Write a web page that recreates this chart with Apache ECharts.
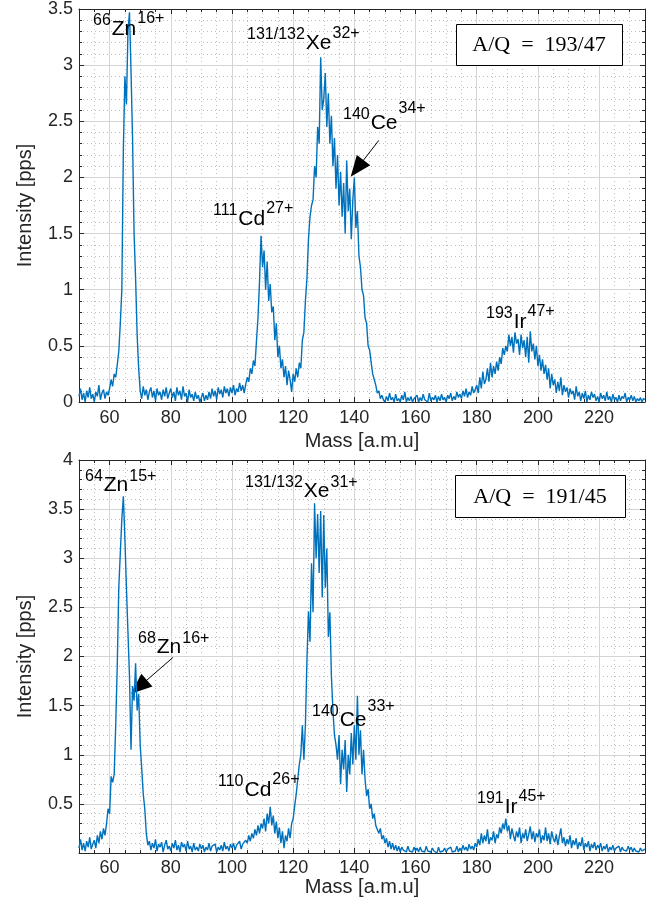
<!DOCTYPE html>
<html>
<head>
<meta charset="utf-8">
<title>A/Q spectra</title>
<script src="https://cdn.jsdelivr.net/npm/echarts@6/dist/echarts.min.js"></script>
<style>
html, body { margin: 0; padding: 0; background: #fff; }
#main { width: 657px; height: 907px; }
</style>
</head>
<body>
<div id="main"></div>
<script>
// mass axis: 50 .. 235 amu sampled every 0.5 amu
var massStart = 50, massStep = 0.5;

// A/Q = 193/47 (upper panel), intensity in pps, one row = 10 amu
var intensityTop = [
  0.05,0.12,0.02,0.08,0.00,0.10,0.04,0.13,0.03,0.07,0.00,0.09,0.05,0.15,0.02,0.08,0.11,0.03,0.09,0.06,
  0.12,0.20,0.14,0.25,0.22,0.33,0.45,0.70,1.00,2.25,2.90,2.65,3.30,3.47,2.95,2.35,1.50,1.10,0.60,0.30,
  0.10,0.03,0.14,0.06,0.11,0.02,0.09,0.13,0.04,0.10,0.01,0.12,0.06,0.09,0.02,0.11,0.05,0.13,0.03,0.08,
  0.12,0.04,0.09,0.01,0.13,0.06,0.10,0.02,0.14,0.05,0.08,0.00,0.11,0.04,0.07,0.01,0.09,0.03,0.06,0.00,
  0.04,0.08,0.01,0.06,0.02,0.09,0.03,0.12,0.05,0.10,0.02,0.13,0.07,0.11,0.04,0.14,0.08,0.12,0.05,0.13,
  0.08,0.15,0.06,0.12,0.09,0.17,0.10,0.15,0.08,0.16,0.22,0.18,0.30,0.25,0.37,0.32,0.54,0.75,1.07,1.48,
  1.20,1.35,1.00,1.25,0.90,1.05,0.80,0.85,0.55,0.70,0.40,0.50,0.30,0.38,0.22,0.32,0.15,0.28,0.20,0.09,
  0.25,0.18,0.30,0.22,0.35,0.30,0.55,0.62,0.90,1.10,1.45,1.65,1.75,1.80,2.10,2.00,2.45,2.30,3.07,2.60,
  2.70,2.93,2.45,2.75,2.30,2.55,2.10,2.35,1.90,2.20,1.75,2.05,1.65,1.95,1.50,2.15,1.70,1.90,1.45,1.80,
  2.00,1.55,1.70,1.30,1.20,1.00,0.95,0.75,0.70,0.50,0.46,0.35,0.25,0.20,0.15,0.08,0.10,0.03,0.06,0.02,
  0.00,0.05,0.01,0.08,0.02,0.04,0.00,0.07,0.01,0.03,0.00,0.06,0.02,0.09,0.00,0.04,0.01,0.05,0.00,0.03,
  0.02,0.06,0.00,0.04,0.01,0.07,0.02,0.03,0.00,0.08,0.01,0.04,0.02,0.06,0.00,0.05,0.01,0.07,0.02,0.04,
  0.00,0.06,0.03,0.08,0.01,0.05,0.02,0.09,0.04,0.07,0.03,0.10,0.05,0.12,0.04,0.09,0.06,0.14,0.08,0.11,
  0.15,0.08,0.22,0.12,0.27,0.16,0.20,0.30,0.18,0.35,0.22,0.32,0.25,0.36,0.28,0.40,0.34,0.48,0.42,0.50,
  0.45,0.60,0.50,0.58,0.44,0.62,0.52,0.56,0.42,0.60,0.48,0.55,0.40,0.58,0.35,0.63,0.45,0.52,0.38,0.50,
  0.32,0.42,0.28,0.38,0.25,0.33,0.20,0.30,0.12,0.25,0.15,0.20,0.08,0.18,0.10,0.22,0.06,0.15,0.09,0.13,
  0.04,0.12,0.07,0.10,0.02,0.14,0.05,0.09,0.01,0.08,0.03,0.10,0.00,0.06,0.02,0.09,0.04,0.07,0.01,0.05,
  0.00,0.08,0.03,0.06,0.01,0.09,0.02,0.05,0.00,0.07,0.02,0.04,0.00,0.06,0.01,0.05,0.03,0.08,0.00,0.04,
  0.02,0.06,0.01,0.05,0.00,0.03,0.01,0.04,0.00,0.03,0.02
];

// A/Q = 191/45 (lower panel)
var intensityBottom = [
  0.05,0.14,0.03,0.10,0.02,0.12,0.06,0.16,0.04,0.09,0.13,0.05,0.18,0.10,0.22,0.14,0.25,0.18,0.30,0.45,
  0.40,0.78,0.72,0.80,1.30,1.90,2.70,3.05,3.40,3.63,3.20,2.70,2.25,1.80,1.05,1.70,1.55,1.93,1.45,1.62,
  1.10,0.86,0.60,0.45,0.20,0.08,0.12,0.03,0.10,0.05,0.14,0.02,0.09,0.06,0.11,0.01,0.08,0.13,0.04,0.07,
  0.02,0.10,0.05,0.13,0.03,0.08,0.01,0.11,0.06,0.09,0.02,0.12,0.04,0.07,0.01,0.10,0.03,0.06,0.02,0.09,
  0.04,0.08,0.01,0.06,0.03,0.10,0.02,0.07,0.05,0.09,0.01,0.06,0.03,0.08,0.02,0.11,0.04,0.07,0.02,0.09,
  0.05,0.10,0.03,0.08,0.06,0.12,0.04,0.09,0.07,0.13,0.10,0.18,0.12,0.20,0.15,0.24,0.18,0.28,0.20,0.30,
  0.25,0.35,0.22,0.40,0.30,0.47,0.28,0.38,0.20,0.32,0.15,0.26,0.10,0.22,0.05,0.18,0.12,0.25,0.15,0.30,
  0.35,0.48,0.60,0.75,0.90,1.00,1.30,0.95,1.30,1.96,2.46,2.15,2.95,2.45,3.56,3.00,3.45,2.85,3.48,2.60,
  3.44,2.70,3.10,2.20,2.45,1.80,1.45,1.20,1.10,0.95,1.20,0.70,1.05,0.85,1.15,0.62,1.00,0.80,1.22,0.90,
  1.30,0.95,1.60,1.00,1.25,0.80,1.05,0.75,0.58,0.65,0.45,0.50,0.35,0.40,0.28,0.30,0.20,0.25,0.14,0.18,
  0.10,0.15,0.06,0.12,0.04,0.10,0.03,0.08,0.02,0.07,0.01,0.06,0.03,0.05,0.01,0.07,0.02,0.04,0.01,0.06,
  0.02,0.05,0.01,0.06,0.02,0.04,0.01,0.07,0.02,0.03,0.01,0.05,0.02,0.04,0.00,0.06,0.01,0.03,0.02,0.05,
  0.01,0.04,0.02,0.06,0.01,0.03,0.02,0.07,0.01,0.05,0.02,0.08,0.03,0.06,0.02,0.09,0.04,0.07,0.03,0.10,
  0.06,0.14,0.08,0.20,0.10,0.18,0.12,0.24,0.09,0.16,0.13,0.22,0.10,0.19,0.15,0.26,0.20,0.30,0.24,0.35,
  0.22,0.28,0.14,0.25,0.18,0.12,0.22,0.16,0.26,0.10,0.20,0.15,0.24,0.12,0.19,0.27,0.14,0.22,0.11,0.20,
  0.16,0.24,0.10,0.18,0.13,0.26,0.12,0.20,0.09,0.22,0.15,0.11,0.19,0.08,0.17,0.25,0.10,0.16,0.07,0.14,
  0.09,0.18,0.05,0.13,0.08,0.15,0.04,0.11,0.07,0.16,0.03,0.10,0.06,0.12,0.02,0.09,0.05,0.11,0.03,0.08,
  0.05,0.10,0.02,0.07,0.04,0.09,0.01,0.06,0.03,0.08,0.02,0.05,0.04,0.07,0.01,0.06,0.03,0.05,0.02,0.07,
  0.03,0.06,0.01,0.05,0.02,0.04,0.01,0.05,0.02,0.03,0.04
];

// ion labels: [prefix superscript, element, charge]
var ionsTop = [['66', 'Zn', '16+'], ['131/132', 'Xe', '32+'], ['140', 'Ce', '34+'], ['111', 'Cd', '27+'], ['193', 'Ir', '47+']];
var ionsBottom = [['64', 'Zn', '15+'], ['131/132', 'Xe', '31+'], ['68', 'Zn', '16+'], ['140', 'Ce', '33+'], ['110', 'Cd', '26+'], ['191', 'Ir', '45+']];
var aqTop = 'A/Q\u2002=\u2002193/47';
var aqBottom = 'A/Q\u2002=\u2002191/45';
// arrows [from, to] in [mass, intensity]
var arrowTop = [[148.0, 2.33], [140.9, 2.08]];
var arrowBottom = [[80.7, 1.99], [69.6, 1.69]];

function pairs(values) {
  var out = [];
  for (var i = 0; i < values.length; i++) out.push([massStart + i * massStep, values[i]]);
  return out;
}

var SANS = '"Liberation Sans", Arial, Helvetica, sans-serif';
var SERIF = '"Liberation Serif", "Times New Roman", serif';
var INK = '#262626';

var ctx = document.createElement('canvas').getContext('2d');
function textWidth(s, font) { ctx.font = font; return ctx.measureText(s).width; }

function txt(str, left, baseline, fs, family, align) {
  return {
    type: 'text', x: left, y: baseline - 0.3465 * fs, z: 100, silent: true,
    style: { text: str, font: fs + 'px ' + family, fill: '#000',
      align: align || 'left', verticalAlign: 'middle',
      textAlign: align || 'left', textVerticalAlign: 'middle' }
  };
}

// x = left edge of the prefix, base = baseline of the element symbol
function ionLabel(ion, x, base, postRise) {
  var fsS = 16, fsM = 21;
  var w1 = textWidth(ion[0], fsS + 'px ' + SANS);
  var w2 = textWidth(ion[1], fsM + 'px ' + SANS);
  return [
    txt(ion[0], x, base - 10, fsS, SANS),
    txt(ion[1], x + w1 + 1, base, fsM, SANS),
    txt(ion[2], x + w1 + w2 + 2, base - (postRise || 11), fsS, SANS)
  ];
}

function box(x, y, w, h, str) {
  return [
    { type: 'rect', z: 99, silent: true, shape: { x: x + 0.5, y: y + 0.5, width: w, height: h },
      style: { fill: '#fff', stroke: '#000', lineWidth: 1 } },
    { type: 'text', z: 100, silent: true, x: x + w / 2, y: y + h / 2 + 1,
      style: { text: str, font: '22px ' + SERIF, fill: '#000', align: 'center', verticalAlign: 'middle',
        textAlign: 'center', textVerticalAlign: 'middle' } }
  ];
}

function xAxes(gi, gap, margin) {
  var common = { type: 'value', gridIndex: gi, min: 50, max: 235, axisLine: { onZero: false } };
  return [
    Object.assign({}, common, {
      position: 'bottom', z: 3, splitNumber: 9, minInterval: 20, maxInterval: 20,
      axisLine: { show: true, onZero: false, lineStyle: { color: INK, width: 1 } },
      axisTick: { show: true, inside: true, length: 5, lineStyle: { color: INK } },
      axisLabel: { margin: margin, fontSize: 18, fontFamily: SANS, color: INK,
        formatter: function (v) { return v % 20 === 0 ? String(v) : ''; } },
      splitLine: { show: true, lineStyle: { color: '#d4d4d4', width: 1 } },
      name: 'Mass [a.m.u]', nameLocation: 'middle', nameGap: gap,
      nameTextStyle: { fontSize: 20, fontFamily: SANS, color: INK }
    }),
    Object.assign({}, common, {
      position: 'bottom', z: 1, interval: 5,
      axisLine: { show: false, onZero: false },
      axisTick: { show: true, inside: true, length: 3, lineStyle: { color: INK } },
      axisLabel: { show: false },
      splitLine: { show: true, lineStyle: { color: '#bdbdbd', width: 1, type: [1, 3] } }
    }),
    Object.assign({}, common, {
      position: 'top', z: 3, splitNumber: 9, minInterval: 20, maxInterval: 20,
      axisLine: { show: true, onZero: false, lineStyle: { color: INK, width: 1 } },
      axisTick: { show: true, inside: true, length: 5, lineStyle: { color: INK } },
      axisLabel: { show: false }, splitLine: { show: false }
    }),
    Object.assign({}, common, {
      position: 'top', z: 1, interval: 5,
      axisLine: { show: false, onZero: false },
      axisTick: { show: true, inside: true, length: 3, lineStyle: { color: INK } },
      axisLabel: { show: false }, splitLine: { show: false }
    })
  ];
}

function yAxes(gi, yMax, hideZero) {
  var common = {
    type: 'value', gridIndex: gi, min: 0, max: yMax, interval: 0.5, z: 3,
    axisLine: { show: true, onZero: false, lineStyle: { color: INK, width: 1 } },
    axisTick: { show: true, inside: true, length: 5, lineStyle: { color: INK } },
    minorTick: { show: true, splitNumber: 5, length: 3, lineStyle: { color: INK } }
  };
  return [
    Object.assign({}, common, {
      position: 'left',
      axisLabel: { margin: 6, fontSize: 18, fontFamily: SANS, color: INK,
        formatter: function (v) { return (hideZero && v === 0) ? '' : String(v); } },
      splitLine: { show: true, lineStyle: { color: '#d4d4d4', width: 1 } },
      minorSplitLine: { show: true, lineStyle: { color: '#bdbdbd', width: 1, type: [1, 3] } },
      name: 'Intensity [pps]', nameLocation: 'middle', nameGap: 44,
      nameTextStyle: { fontSize: 20, fontFamily: SANS, color: INK }
    }),
    Object.assign({}, common, {
      position: 'right', axisLabel: { show: false }, splitLine: { show: false }
    })
  ];
}

function spectrum(values, xi, yi, arrow) {
  return {
    type: 'line', xAxisIndex: xi, yAxisIndex: yi, data: pairs(values),
    symbol: 'none', showSymbol: false, animation: false, z: 5,
    lineStyle: { color: '#0072BD', width: 1.4 }, itemStyle: { color: '#0072BD' },
    markLine: {
      silent: true, animation: false, symbol: ['none', 'triangle'], symbolSize: [17, 21],
      label: { show: false }, lineStyle: { color: '#000', width: 1, type: 'solid' },
      itemStyle: { color: '#000' },
      data: [[{ coord: arrow[0] }, { coord: arrow[1] }]]
    }
  };
}

var graphics = []
  .concat(box(456, 24, 166, 41, aqTop))
  .concat(box(455, 475, 170, 42, aqBottom))
  .concat(ionLabel(ionsTop[0], 93, 36.5, 12))
  .concat(ionLabel(ionsTop[1], 247, 50.5, 11))
  .concat(ionLabel(ionsTop[2], 343, 130.5, 16))
  .concat(ionLabel(ionsTop[3], 213, 226, 12))
  .concat(ionLabel(ionsTop[4], 486, 329, 12))
  .concat(ionLabel(ionsBottom[0], 85, 492, 10))
  .concat(ionLabel(ionsBottom[1], 245, 498, 10))
  .concat(ionLabel(ionsBottom[2], 138, 654, 10))
  .concat(ionLabel(ionsBottom[3], 312, 727, 15))
  .concat(ionLabel(ionsBottom[4], 218, 797, 12))
  .concat(ionLabel(ionsBottom[5], 477, 814, 12));

var chart = echarts.init(document.getElementById('main'), null, { renderer: 'canvas' });
chart.setOption({
  backgroundColor: '#fff',
  animation: false,
  grid: [
    { left: 79, right: 12, top: 9, height: 393 },
    { left: 79, right: 12, top: 460, height: 393 }
  ],
  xAxis: xAxes(0, 29, 7).concat(xAxes(1, 23, 6)),
  yAxis: yAxes(0, 3.5, false).concat(yAxes(1, 4, true)),
  series: [
    spectrum(intensityTop, 0, 0, arrowTop),
    spectrum(intensityBottom, 4, 2, arrowBottom)
  ],
  graphic: { elements: graphics }
});
</script>
</body>
</html>
